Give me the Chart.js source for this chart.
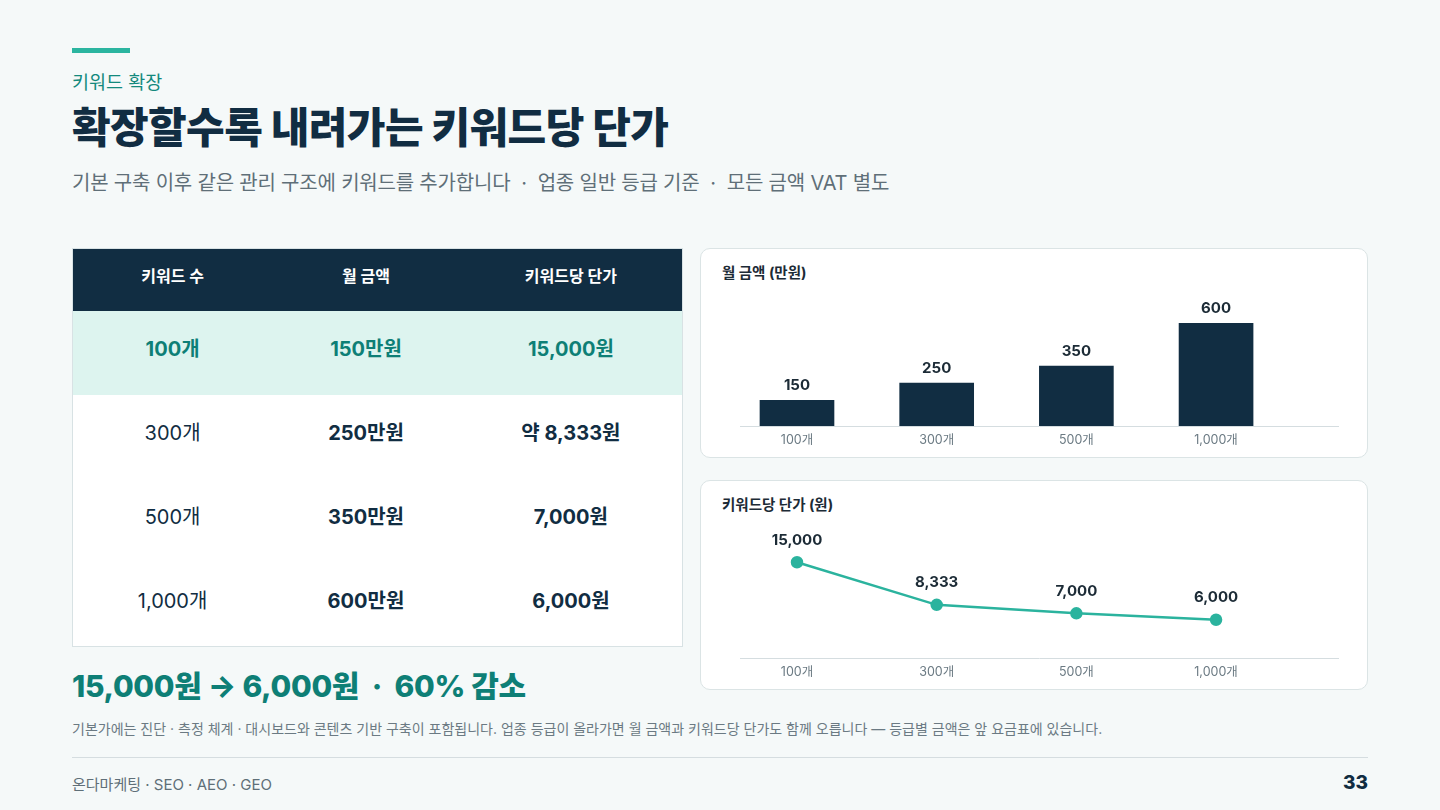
<!DOCTYPE html>
<html lang="ko">
<head>
<meta charset="utf-8">
<title>확장할수록 내려가는 키워드당 단가</title>
<script src="https://cdn.jsdelivr.net/npm/chart.js@4.4.1/dist/chart.umd.min.js"></script>
<style>
    * { box-sizing: border-box; margin: 0; padding: 0; }
    html, body { width: 1440px; height: 810px; overflow: hidden; }
    body {
        background: #f5f9f9;
        font-family: Inter, "Noto Sans CJK KR", sans-serif;
        color: #112d42;
        position: relative;
    }
    .accent { position: absolute; left: 72px; top: 48px; width: 58px; height: 5px; background: #2bb5a0; }
    .eyebrow { position: absolute; left: 72px; top: 68px; font-size: 18.5px; color: #13897d; font-weight: 400; }
    h1 { position: absolute; left: 72px; top: 94px; font-size: 42px; font-weight: 800; letter-spacing: -0.6px; color: #112d42; }
    .sub { position: absolute; left: 72px; top: 167px; font-size: 20px; color: #5f6f78; letter-spacing: -0.2px; }

    table {
        position: absolute; left: 72px; top: 248px; width: 611px;
        border-collapse: collapse; background: #fff;
        border: 1px solid #d8e2e4; font-size: 20px;
    }
    th { background: #112d42; color: #fff; height: 62px; padding-bottom: 9px; font-size: 16px; font-weight: 700; }
    td { height: 84px; padding-bottom: 10px; text-align: center; color: #112d42; }
    td.b { font-weight: 700; }
    tr.hl td { background: #ddf4ef; color: #0e7f76; font-weight: 700; }

    .summary { position: absolute; left: 72px; top: 662px; font-size: 30px; font-weight: 800; color: #0e7f76; letter-spacing: -0.3px; }
    .note { position: absolute; left: 72px; top: 718px; font-size: 14px; color: #6b7a83; }
    .rule { position: absolute; left: 72px; top: 757px; width: 1296px; height: 1px; background: #d5dde0; }
    .foot { position: absolute; left: 72px; top: 773px; font-size: 15px; color: #5f6f78; }
    .page { position: absolute; right: 72px; top: 771px; font-size: 19px; font-weight: 800; color: #112d42; }

    .card {
        position: absolute; left: 700px; width: 668px; height: 210px;
        background: #fff; border: 1px solid #dbe4e5; border-radius: 10px;
    }
    .card h3 { position: absolute; left: 21px; top: 12px; font-size: 14.5px; font-weight: 700; color: #1c2b36; }
    .card .box { position: absolute; left: -1px; width: 668px; }
</style>
</head>
<body>
<div class="accent"></div>
<div class="eyebrow">키워드 확장</div>
<h1>확장할수록 내려가는 키워드당 단가</h1>
<div class="sub">기본 구축 이후 같은 관리 구조에 키워드를 추가합니다 &nbsp;·&nbsp; 업종 일반 등급 기준 &nbsp;·&nbsp; 모든 금액 VAT 별도</div>

<table>
    <colgroup><col style="width:200px"><col style="width:188px"><col style="width:223px"></colgroup>
    <thead><tr><th>키워드 수</th><th>월 금액</th><th>키워드당 단가</th></tr></thead>
    <tbody id="rows"></tbody>
</table>

<div class="summary">15,000원 → 6,000원 &nbsp;·&nbsp; 60% 감소</div>
<div class="note">기본가에는 진단 · 측정 체계 · 대시보드와 콘텐츠 기반 구축이 포함됩니다. 업종 등급이 올라가면 월 금액과 키워드당 단가도 함께 오릅니다 — 등급별 금액은 앞 요금표에 있습니다.</div>
<div class="rule"></div>
<div class="foot">온다마케팅 · SEO · AEO · GEO</div>
<div class="page">33</div>

<div class="card" style="top:248px">
    <h3>월 금액 (만원)</h3>
    <div class="box" style="top:40px;height:169px"><canvas id="monthlyChart"></canvas></div>
</div>
<div class="card" style="top:480px">
    <h3>키워드당 단가 (원)</h3>
    <div class="box" style="top:43px;height:166px"><canvas id="unitChart"></canvas></div>
</div>

<script>
    // 데이터
    const keywordLabels = ['100개', '300개', '500개', '1,000개'];
    const monthlyFee = [150, 250, 350, 600];          // 만원
    const unitPrice = [15000, 8333, 7000, 6000];      // 원
    const unitPriceText = ['15,000원', '약 8,333원', '7,000원', '6,000원'];

    document.addEventListener("DOMContentLoaded", function () {
        // 표
        const tbody = document.getElementById('rows');
        keywordLabels.forEach((label, i) => {
            const tr = document.createElement('tr');
            if (i === 0) tr.className = 'hl';
            tr.innerHTML = '<td>' + label + '</td>' +
                '<td class="b">' + monthlyFee[i] + '만원</td>' +
                '<td class="b">' + unitPriceText[i] + '</td>';
            tbody.appendChild(tr);
        });

        const fontFamily = 'Inter, "Noto Sans CJK KR", sans-serif';

        // 값 라벨 플러그인
        const valueLabels = {
            id: 'valueLabels',
            afterDatasetsDraw(chart, args, opts) {
                const ctx = chart.ctx;
                const meta = chart.getDatasetMeta(0);
                ctx.save();
                ctx.font = '700 15px ' + fontFamily;
                ctx.fillStyle = '#1c2b36';
                ctx.textAlign = 'center';
                ctx.textBaseline = 'middle';
                meta.data.forEach((el, i) => {
                    const v = chart.data.datasets[0].data[i].y;
                    ctx.fillText(v.toLocaleString('en-US'), el.x, el.y - opts.offset);
                });
                ctx.restore();
            }
        };

        const xScale = {
            type: 'linear',
            min: -0.408,
            max: 3.873,
            offset: false,
            grid: { display: false, drawTicks: false, tickLength: 0 },
            border: { display: true, color: '#d5dde0', width: 1 },
            afterBuildTicks: axis => {
                axis.ticks = keywordLabels.map((l, i) => ({ value: i }));
            },
            afterFit: axis => { axis.height = 32; },
            ticks: {
                color: '#6b7a83',
                font: { family: fontFamily, size: 12.5 },
                padding: 7,
                maxRotation: 0,
                callback: value => keywordLabels[value]
            }
        };

        const commonOptions = {
            responsive: true,
            maintainAspectRatio: false,
            animation: false,
            layout: { autoPadding: false, padding: { left: 40, right: 30, top: 0, bottom: 0 } },
            plugins: {
                legend: { display: false },
                tooltip: { enabled: false }
            }
        };

        new Chart(document.getElementById('monthlyChart'), {
            type: 'bar',
            data: {
                datasets: [{
                    label: '월 금액 (만원)',
                    data: monthlyFee.map((v, i) => ({ x: i, y: v })),
                    backgroundColor: '#112d42',
                    barThickness: 74
                }]
            },
            options: Object.assign({}, commonOptions, {
                plugins: Object.assign({}, commonOptions.plugins, { valueLabels: { offset: 15 } }),
                scales: {
                    x: xScale,
                    y: { display: false, min: 0, max: 800 }
                }
            }),
            plugins: [valueLabels]
        });

        new Chart(document.getElementById('unitChart'), {
            type: 'line',
            data: {
                datasets: [{
                    label: '키워드당 단가 (원)',
                    data: unitPrice.map((v, i) => ({ x: i, y: v })),
                    borderColor: '#2bb39e',
                    backgroundColor: '#2bb39e',
                    borderWidth: 2.5,
                    pointRadius: 5,
                    pointHoverRadius: 5,
                    tension: 0,
                    clip: false
                }]
            },
            options: Object.assign({}, commonOptions, {
                plugins: Object.assign({}, commonOptions.plugins, { valueLabels: { offset: 22 } }),
                scales: {
                    x: xScale,
                    y: { display: false, min: 0, max: 21000 }
                }
            }),
            plugins: [valueLabels]
        });
    });
</script>
</body>
</html>
